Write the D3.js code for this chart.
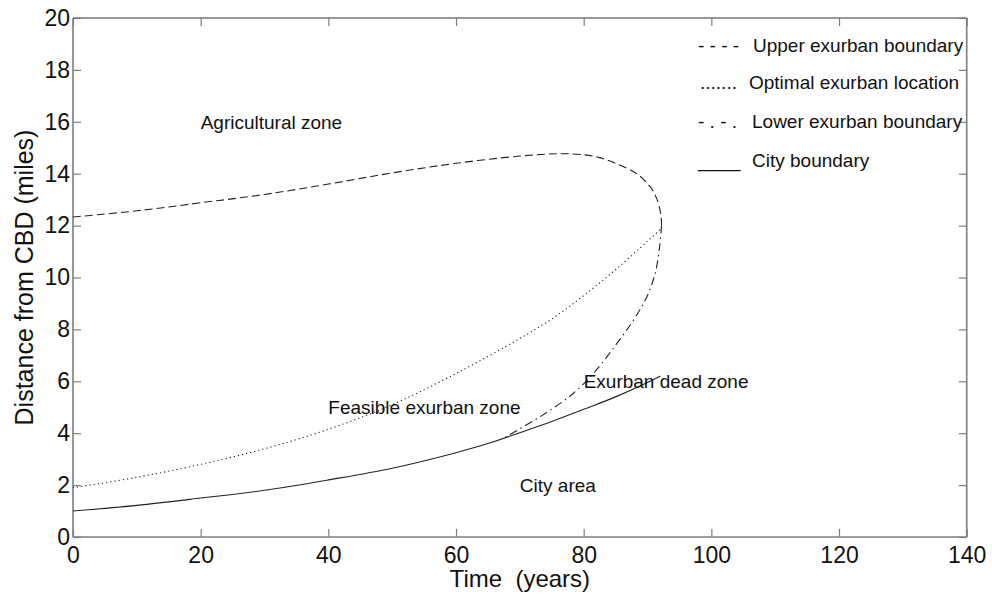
<!DOCTYPE html>
<html>
<head>
<meta charset="utf-8">
<script src="https://cdn.jsdelivr.net/npm/d3@7"></script>
<style>
  html, body { margin: 0; padding: 0; background: #fff; }
  svg { display: block; }
  text { font-family: "Liberation Sans", Arial, sans-serif; fill: #111; }
</style>
</head>
<body>
<svg id="chart" width="992" height="599"></svg>
<script>
// ---- data ----
const xTicks = [0, 20, 40, 60, 80, 100, 120, 140];
const yTicks = [0, 2, 4, 6, 8, 10, 12, 14, 16, 18, 20];

const cityT = [0, 10, 20, 30, 40, 50, 60, 65, 70, 75, 80, 85, 90, 92];
const cityD = [1.0, 1.22, 1.5, 1.8, 2.2, 2.65, 3.25, 3.6, 4.02, 4.45, 4.92, 5.4, 5.95, 6.2];

const optimalT = [0, 10, 20, 30, 40, 50, 60, 70, 75, 80, 85, 90, 92];
const optimalD = [1.9, 2.3, 2.8, 3.4, 4.15, 5.1, 6.3, 7.65, 8.4, 9.3, 10.3, 11.4, 11.85];

const upperT = [0, 10, 20, 30, 40, 50, 60, 70, 76, 80, 82.5, 85, 88.3, 90.4, 91.5, 92.1, 92.2];
const upperD = [12.33, 12.57, 12.88, 13.2, 13.6, 14.03, 14.4, 14.68, 14.77, 14.73, 14.62, 14.4, 14.0, 13.5, 13.0, 12.4, 12.0];

const lowerT = [92.2, 91.9, 91.2, 89.9, 87.8, 85.2, 82.0, 78.4, 73.2, 67.5];
const lowerD = [12.0, 11.2, 10.16, 9.26, 8.36, 7.46, 6.44, 5.54, 4.64, 3.82];

const zoneLabels = ["Agricultural zone", "Feasible exurban zone", "City area", "Exurban dead zone"];
const zoneT = [20, 40, 70, 80];
const zoneD = [16, 5, 2, 6];

const legendLabels = ["Upper exurban boundary", "Optimal exurban location", "Lower exurban boundary", "City boundary"];
const legendSamples = ["- - - -", ".......", "- . - .", "____"];

(function () {
  // ---- layout ----
  const svg = d3.select("#chart");
  const pL = 73, pR = 966.7, pT = 18, pB = 537;
  const x = d3.scaleLinear().domain([0, 140]).range([pL, pR]);
  const y = d3.scaleLinear().domain([0, 20]).range([pB, pT]);

  const axisColor = "#7d7d7d";
  const tickLen = 8;
  const FONT = "'Liberation Sans', Arial, sans-serif";

  // frame
  svg.append("line").attr("x1", pL).attr("x2", pR).attr("y1", pT).attr("y2", pT)
    .attr("stroke", "#333").attr("stroke-width", 1.2);
  svg.append("line").attr("x1", pR).attr("x2", pR).attr("y1", pT).attr("y2", pB)
    .attr("stroke", axisColor).attr("stroke-width", 1.6);
  svg.append("line").attr("x1", pL).attr("x2", pR).attr("y1", pB).attr("y2", pB)
    .attr("stroke", axisColor).attr("stroke-width", 1.6);
  svg.append("line").attr("x1", pL).attr("x2", pL).attr("y1", pT).attr("y2", pB)
    .attr("stroke", axisColor).attr("stroke-width", 1.6);

  // axes via d3
  const xAxis = d3.axisBottom(x).tickValues(xTicks).tickSize(-tickLen).tickPadding(10).tickFormat(d3.format("d"));
  const gx = svg.append("g").attr("transform", `translate(0,${pB})`).call(xAxis);
  gx.select(".domain").remove();
  gx.selectAll("line").attr("stroke", axisColor).attr("stroke-width", 1.2);
  gx.selectAll("text").attr("font-size", 23).attr("fill", "#111").attr("font-family", FONT);

  const yAxis = d3.axisLeft(y).tickValues(yTicks).tickSize(-tickLen).tickPadding(3).tickFormat(d3.format("d"));
  const gy = svg.append("g").attr("transform", `translate(${pL},0)`).call(yAxis);
  gy.select(".domain").remove();
  gy.selectAll("line").attr("stroke", axisColor).attr("stroke-width", 1.2);
  gy.selectAll("text").attr("font-size", 23).attr("fill", "#111").attr("font-family", FONT);

  // mirrored ticks (top, right)
  const xTop = d3.axisTop(x).tickValues(xTicks).tickSize(-tickLen).tickFormat("");
  const gxt = svg.append("g").attr("transform", `translate(0,${pT})`).call(xTop);
  gxt.select(".domain").remove();
  gxt.selectAll("line").attr("stroke", axisColor).attr("stroke-width", 1.2);

  const yRight = d3.axisRight(y).tickValues(yTicks).tickSize(-tickLen).tickFormat("");
  const gyr = svg.append("g").attr("transform", `translate(${pR},0)`).call(yRight);
  gyr.select(".domain").remove();
  gyr.selectAll("line").attr("stroke", axisColor).attr("stroke-width", 1.2);

  // axis titles
  svg.append("text").attr("x", (pL + pR) / 2).attr("y", 587)
    .attr("text-anchor", "middle").attr("font-size", 24).style("white-space", "pre")
    .text("Time  (years)");
  svg.append("text").attr("transform", `translate(33,${(pT + pB) / 2}) rotate(-90)`)
    .attr("text-anchor", "middle").attr("font-size", 25).text("Distance from CBD (miles)");

  // curves
  const line = d3.line().x(d => x(d[0])).y(d => y(d[1])).curve(d3.curveCatmullRom.alpha(0.5));
  const zip = (a, b) => a.map((v, i) => [v, b[i]]);

  const series = [
    { t: upperT, d: upperD, dash: "8,4" },
    { t: optimalT, d: optimalD, dash: "1.2,3" },
    { t: lowerT, d: lowerD, dash: "8,4,1.5,4" },
    { t: cityT, d: cityD, dash: null }
  ];
  series.forEach(s => {
    svg.append("path").datum(zip(s.t, s.d)).attr("d", line)
      .attr("fill", "none").attr("stroke", "#222").attr("stroke-width", 1.1)
      .attr("stroke-dasharray", s.dash);
  });

  // zone labels
  zoneLabels.forEach((lab, i) => {
    svg.append("text").attr("x", x(zoneT[i])).attr("y", y(zoneD[i]) + 7)
      .attr("font-size", 19).text(lab);
  });

  // legend
  const legBase = [52, 89, 128, 167];
  const legTextX = [753, 749, 752, 752];
  const legSampleX = [698, 700, 698, 698];
  legendLabels.forEach((lab, i) => {
    svg.append("text").attr("x", legSampleX[i]).attr("y", legBase[i])
      .attr("font-size", 19).style("white-space", "pre")
      .text(legendSamples[i]);
    svg.append("text").attr("x", legTextX[i]).attr("y", legBase[i])
      .attr("font-size", 19).text(lab);
  });
})();
</script>
</body>
</html>
